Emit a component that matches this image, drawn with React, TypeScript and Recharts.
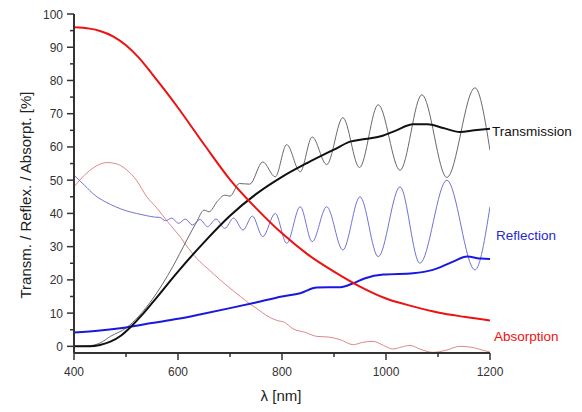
import { LineChart, Line, XAxis, YAxis } from 'recharts';

// wavelength [nm] / value [%] pairs
const absThickWl = [400, 430, 450, 475, 500, 525, 550, 575, 600, 650, 700, 750, 800, 850, 900, 950, 1000, 1050, 1100, 1150, 1200];
const absThickVal = [96, 95.6, 94.9, 93.3, 90.6, 86.8, 82, 77, 71.8, 60.8, 50.2, 41.6, 34, 27.6, 22.5, 18, 14.4, 12.1, 10.2, 8.9, 7.8];

const reflThickWl = [400, 450, 500, 550, 600, 642, 700, 750, 800, 835, 867, 912, 937, 960, 995, 1052, 1090, 1129, 1156, 1183, 1200];
const reflThickVal = [4.2, 4.8, 5.7, 7, 8.3, 9.6, 11.5, 13.2, 15, 16, 17.7, 17.8, 19, 20.5, 21.6, 22, 23, 25.5, 27, 26.4, 26.3];

const transThickWl = [400, 430, 450, 470, 490, 510, 530, 550, 600, 650, 700, 750, 800, 850, 900, 931, 960, 990, 1020, 1052, 1080, 1110, 1142, 1170, 1200];
const transThickVal = [0, 0, 0.4, 1.4, 3.2, 6, 9.3, 13, 22.5, 31.3, 39.3, 45.8, 51, 55.3, 59.2, 61.6, 62.4, 63.2, 65, 66.8, 66.8, 65.7, 64.5, 65, 65.5];

const transThinWl = [400, 430, 450, 470, 500, 550, 590, 617, 636, 650, 660, 675, 690, 700, 718, 738, 763, 787, 809, 835, 858, 886, 917, 949, 985, 1027, 1069, 1117, 1171, 1200];
const transThinVal = [0, 0.2, 1, 3, 5.5, 14, 24, 32, 37.5, 41, 40.5, 43.5, 45.5, 45.2, 49, 48.8, 55.5, 51, 60.7, 52.5, 63, 54.7, 68.8, 53.8, 72.7, 53, 75.7, 50.8, 77.8, 59];

const reflThinWl = [400, 420, 440, 460, 480, 500, 520, 540, 555, 565, 576, 588, 601, 614, 628, 642, 657, 673, 690, 707, 725, 743, 763, 787, 809, 835, 858, 886, 917, 950, 985, 1027, 1065, 1117, 1171, 1200];
const reflThinVal = [51.5, 48.5, 45.5, 43.5, 42, 40.8, 40, 39.3, 38.9, 38.8, 37.8, 38.6, 37, 38.3, 36.5, 38.2, 36, 38.3, 35.5, 38.6, 35, 39.2, 33, 40, 31, 42, 31.5, 42, 29, 45, 27, 48, 25, 50, 23, 42];

const absThinWl = [400, 420, 440, 463, 480, 502, 520, 540, 560, 580, 604, 620, 642, 660, 681, 700, 720, 738, 755, 771, 790, 805, 821, 845, 867, 890, 912, 937, 955, 975, 995, 1013, 1030, 1046, 1065, 1090, 1115, 1142, 1165, 1194, 1200];
const absThinVal = [48, 51.5, 54, 55.3, 55, 53, 50, 45, 41.5, 37.5, 33, 29.5, 25.5, 23, 20, 17.5, 15, 12.8, 11, 9.2, 7.8, 7.2, 5.3, 4.2, 3, 2.8, 2, 0.5, 1.2, 1.5, 0.3, -0.8, -0.2, 0.3, -0.8, -1.8, -1.2, 0, -0.3, -1.5, -1.7];

const xTicks = [400, 500, 600, 700, 800, 900, 1000, 1100, 1200];
const yTicks = [0, 5, 10, 15, 20, 25, 30, 35, 40, 45, 50, 55, 60, 65, 70, 75, 80, 85, 90, 95, 100];

const toPoints = (wl: number[], val: number[]) => wl.map((x, i) => ({ x, y: val[i] }));

const FONT = '"Liberation Sans", Arial, sans-serif';
const AXIS = '#333';

const XTick = (props: any) => {
  const { x, y, payload } = props;
  const major = payload.value % 200 === 0;
  return (
    <g>
      <line x1={x} x2={x} y1={y} y2={y + (major ? 7 : 4)} stroke={AXIS} strokeWidth={1.5} />
      {major && (
        <text x={x} y={y + 23} textAnchor="middle" fontSize={12} fill={AXIS} fontFamily={FONT}>
          {payload.value}
        </text>
      )}
    </g>
  );
};

const YTick = (props: any) => {
  const { x, y, payload } = props;
  const major = payload.value % 10 === 0;
  return (
    <g>
      <line x1={x} x2={x - (major ? 7 : 4)} y1={y} y2={y} stroke={AXIS} strokeWidth={1.5} />
      {major && (
        <text x={x - 11} y={y + 4.5} textAnchor="end" fontSize={12} fill={AXIS} fontFamily={FONT}>
          {payload.value}
        </text>
      )}
    </g>
  );
};

export default function App() {
  return (
    <div style={{ position: 'absolute', left: 0, top: 0, width: 582, height: 412, background: '#fff', fontFamily: FONT }}>
      <LineChart width={582} height={412} margin={{ top: 14, right: 92, bottom: 0, left: 0 }}>
        <XAxis
          dataKey="x"
          type="number"
          domain={[400, 1200]}
          ticks={xTicks}
          interval={0}
          height={59}
          tickSize={0}
          tickMargin={0}
          tickLine={false}
          tick={<XTick />}
          axisLine={{ stroke: AXIS, strokeWidth: 2 }}
          allowDataOverflow
        />
        <YAxis
          type="number"
          domain={[-2, 100]}
          ticks={yTicks}
          interval={0}
          width={74}
          tickSize={0}
          tickMargin={0}
          tickLine={false}
          tick={<YTick />}
          axisLine={{ stroke: AXIS, strokeWidth: 2 }}
          allowDataOverflow
        />
        <Line data={toPoints(absThinWl, absThinVal)} dataKey="y" type="monotone" stroke="#e08888" strokeWidth={1} dot={false} isAnimationActive={false} />
        <Line data={toPoints(reflThinWl, reflThinVal)} dataKey="y" type="monotone" stroke="#7272d6" strokeWidth={1} dot={false} isAnimationActive={false} />
        <Line data={toPoints(transThinWl, transThinVal)} dataKey="y" type="monotone" stroke="#6a6a6a" strokeWidth={1} dot={false} isAnimationActive={false} />
        <Line data={toPoints(reflThickWl, reflThickVal)} dataKey="y" type="monotone" stroke="#1818e0" strokeWidth={2} dot={false} isAnimationActive={false} />
        <Line data={toPoints(transThickWl, transThickVal)} dataKey="y" type="monotone" stroke="#111" strokeWidth={2} dot={false} isAnimationActive={false} />
        <Line data={toPoints(absThickWl, absThickVal)} dataKey="y" type="monotone" stroke="#ee1111" strokeWidth={2} dot={false} isAnimationActive={false} />
      </LineChart>
      <div style={{ position: 'absolute', left: 492, top: 124, fontSize: 13.5, color: '#111', lineHeight: '16px', whiteSpace: 'nowrap' }}>Transmission</div>
      <div style={{ position: 'absolute', left: 496, top: 228, fontSize: 13.5, color: '#2828d0', lineHeight: '16px', whiteSpace: 'nowrap' }}>Reflection</div>
      <div style={{ position: 'absolute', left: 494, top: 329, fontSize: 13.5, color: '#ee1111', lineHeight: '16px', whiteSpace: 'nowrap' }}>Absorption</div>
      <div style={{ position: 'absolute', left: 26, top: 195, width: 0, height: 0 }}>
        <div style={{ position: 'absolute', left: 0, top: 0, transform: 'translate(-50%, -50%) rotate(-90deg)', fontSize: 15, color: '#222', whiteSpace: 'nowrap', lineHeight: '18px' }}>
          Transm. / Reflex. / Absorpt. [%]
        </div>
      </div>
      <div style={{ position: 'absolute', left: 281, top: 387, transform: 'translateX(-50%)', fontSize: 15, color: '#222', whiteSpace: 'nowrap', lineHeight: '18px' }}>
        λ [nm]
      </div>
    </div>
  );
}
